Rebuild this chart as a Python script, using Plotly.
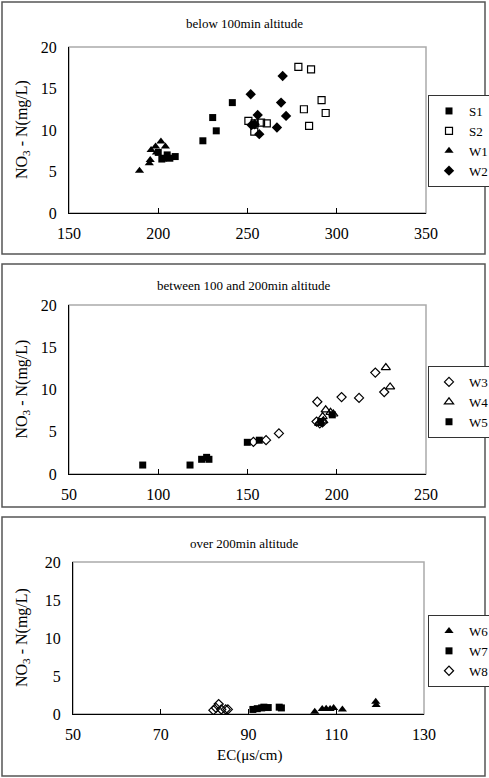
import plotly.graph_objects as go

# ---------------- data ----------------
# Panel 1: below 100 m
S1_x = [200, 202, 203, 205, 206.5, 209.5, 225, 230.5, 232.5, 241.5]
S1_y = [7.3, 6.5, 6.6, 7.0, 6.6, 6.8, 8.7, 11.5, 9.9, 13.3]
S2_x = [250.5, 253.8, 254, 257.6, 260.8, 278.5, 285.6, 291.5, 281.6, 293.8, 284.5]
S2_y = [11.1, 9.8, 10.8, 10.9, 10.8, 17.6, 17.3, 13.6, 12.5, 12.05, 10.5]
W1_x = [189.5, 195, 195.5, 196, 198.5, 201.5, 204, 199]
W1_y = [5.1, 6.0, 6.4, 7.6, 8.0, 8.6, 8.0, 7.3]
W2_x = [269.7, 251.8, 268.8, 271.6, 255.7, 266.5, 252.3, 254, 256.6]
W2_y = [16.5, 14.3, 13.3, 11.7, 11.8, 10.3, 10.6, 10.7, 9.5]

# Panel 2: between 100 and 200 m
W3_x = [153.3, 160.4, 167.6, 189.1, 202.7, 212.5, 221.6, 226.6, 188.7, 190.5, 192]
W3_y = [3.8, 4.0, 4.8, 8.55, 9.1, 9.0, 12.0, 9.7, 6.2, 6.0, 6.1]
W4_x = [227.5, 229.9, 193.8, 192.1, 198.1, 192.5, 190.2, 196.5]
W4_y = [12.6, 10.3, 7.6, 6.8, 7.1, 6.3, 6.0, 7.3]
W5_x = [91.3, 117.8, 124.3, 127.1, 128.4, 149.9, 156.6, 191, 197.5]
W5_y = [1.06, 1.06, 1.74, 1.97, 1.74, 3.75, 4.0, 6.1, 7.0]

# Panel 3: over 200 m
W6_x = [105.1, 106.8, 107.7, 108.6, 109.4, 111.4, 119, 119.1]
W6_y = [0.3, 0.66, 0.7, 0.65, 0.8, 0.6, 1.6, 1.2]
W7_x = [91, 92, 93, 93.5, 94.5, 97, 97.5]
W7_y = [0.6, 0.7, 0.8, 0.9, 0.85, 0.9, 0.8]
W8_x = [82, 82.6, 83.2, 83.8, 84.8, 85.3]
W8_y = [0.5, 0.8, 1.3, 0.6, 0.6, 0.6]

panel_titles = ["below 100min altitude", "between 100 and 200min altitude", "over 200min altitude"]
y_title = "NO<sub>3</sub> - N(mg/L)"
x_title = "EC(μs/cm)"

# ---------------- figure ----------------
W, H = 489, 778
FONT = "Liberation Serif"

def py(px):  # pixel from top -> paper y
    return 1 - px / H

def pxx(px):
    return px / W

fig = go.Figure()

def add(x, y, name, symbol, size, axis, legend, open_=False):
    fig.add_trace(go.Scatter(
        x=x, y=y, mode="markers", name=name,
        xaxis="x" + axis, yaxis="y" + axis, legend=legend,
        marker=dict(symbol=symbol, size=size, color="black",
                    line=dict(width=1.2 if open_ else 0, color="black")),
    ))

add(S1_x, S1_y, "S1", "square", 7, "", "legend")
add(S2_x, S2_y, "S2", "square-open", 7, "", "legend", True)
add(W1_x, W1_y, "W1", "triangle-up", 8, "", "legend")
add(W2_x, W2_y, "W2", "diamond", 8, "", "legend")

add(W3_x, W3_y, "W3", "diamond-open", 7, "2", "legend2", True)
add(W4_x, W4_y, "W4", "triangle-up-open", 8, "2", "legend2", True)
add(W5_x, W5_y, "W5", "square", 7, "2", "legend2")

add(W6_x, W6_y, "W6", "triangle-up", 8, "3", "legend3")
add(W7_x, W7_y, "W7", "square", 7, "3", "legend3")
add(W8_x, W8_y, "W8", "diamond-open", 7, "3", "legend3", True)

tickfont = dict(family=FONT, size=16, color="black")

# plot area pixel boxes: (left, right, top, bottom)
areas = [(69, 426, 47, 213), (69, 426, 305, 474), (73, 424, 562, 714)]
xranges = [[150, 350], [50, 250], [50, 130]]
xdticks = [50, 50, 20]

layout = dict(
    width=W, height=H, margin=dict(l=0, r=0, t=0, b=0, autoexpand=False),
    paper_bgcolor="white", plot_bgcolor="white", showlegend=True,
    font=dict(family=FONT, color="black"),
)
suffixes = ["", "2", "3"]
for i, (l, r, t, b) in enumerate(areas):
    s = suffixes[i]
    layout["xaxis" + s] = dict(
        domain=[pxx(l), pxx(r)], range=xranges[i], dtick=xdticks[i], tick0=xranges[i][0],
        anchor="y" + s, showline=True, linecolor="black", linewidth=1,
        ticks="inside", ticklen=5, tickcolor="black", showgrid=False,
        zeroline=False, tickfont=tickfont, ticklabelstandoff=6,
    )
    layout["yaxis" + s] = dict(
        domain=[py(b), py(t)], range=[0, 20], dtick=5,
        anchor="x" + s, showline=True, linecolor="black", linewidth=1,
        ticks="", showgrid=False, zeroline=False, tickfont=tickfont,
        ticklabelstandoff=8,
    )

leg_tops = [95, 366, 615]
for i, name in enumerate(["legend", "legend2", "legend3"]):
    layout[name] = dict(
        x=pxx(428), y=py(leg_tops[i]), xanchor="left", yanchor="top",
        bordercolor="#333", borderwidth=1, bgcolor="white",
        font=dict(family=FONT, size=13, color="black"),
        itemwidth=30, tracegroupgap=0,
    )

fig.update_layout(**layout)

# panel frames
panels = [(2, 485, 2, 254), (2, 485, 264, 507), (2, 485, 517, 776)]
for (l, r, t, b) in panels:
    fig.add_shape(type="rect", xref="paper", yref="paper",
                  x0=pxx(l), x1=pxx(r), y0=py(b), y1=py(t),
                  line=dict(color="#555", width=1.5), layer="below")

# plot-area gray frame (top/right)
for s in suffixes:
    fig.add_shape(type="rect", xref=("x" + s + " domain"), yref=("y" + s + " domain"),
                  x0=0, x1=1, y0=0, y1=1, line=dict(color="#aaa", width=1.5),
                  layer="below")

# titles
title_ys = [23, 285, 543]
for i, t in enumerate(panel_titles):
    fig.add_annotation(text=t, xref="paper", yref="paper", x=pxx(244), y=py(title_ys[i]),
                       showarrow=False, font=dict(family=FONT, size=13, color="black"),
                       xanchor="center", yanchor="middle")
for (l, r, t, b) in areas:
    fig.add_annotation(text=y_title, xref="paper", yref="paper", x=pxx(22), y=py((t + b) / 2),
                       showarrow=False, textangle=-90,
                       font=dict(family=FONT, size=16, color="black"),
                       xanchor="center", yanchor="middle")
fig.add_annotation(text=x_title, xref="paper", yref="paper", x=pxx(250), y=py(755),
                   showarrow=False, font=dict(family=FONT, size=15, color="black"),
                   xanchor="center", yanchor="middle")

fig.write_html("out.html")
